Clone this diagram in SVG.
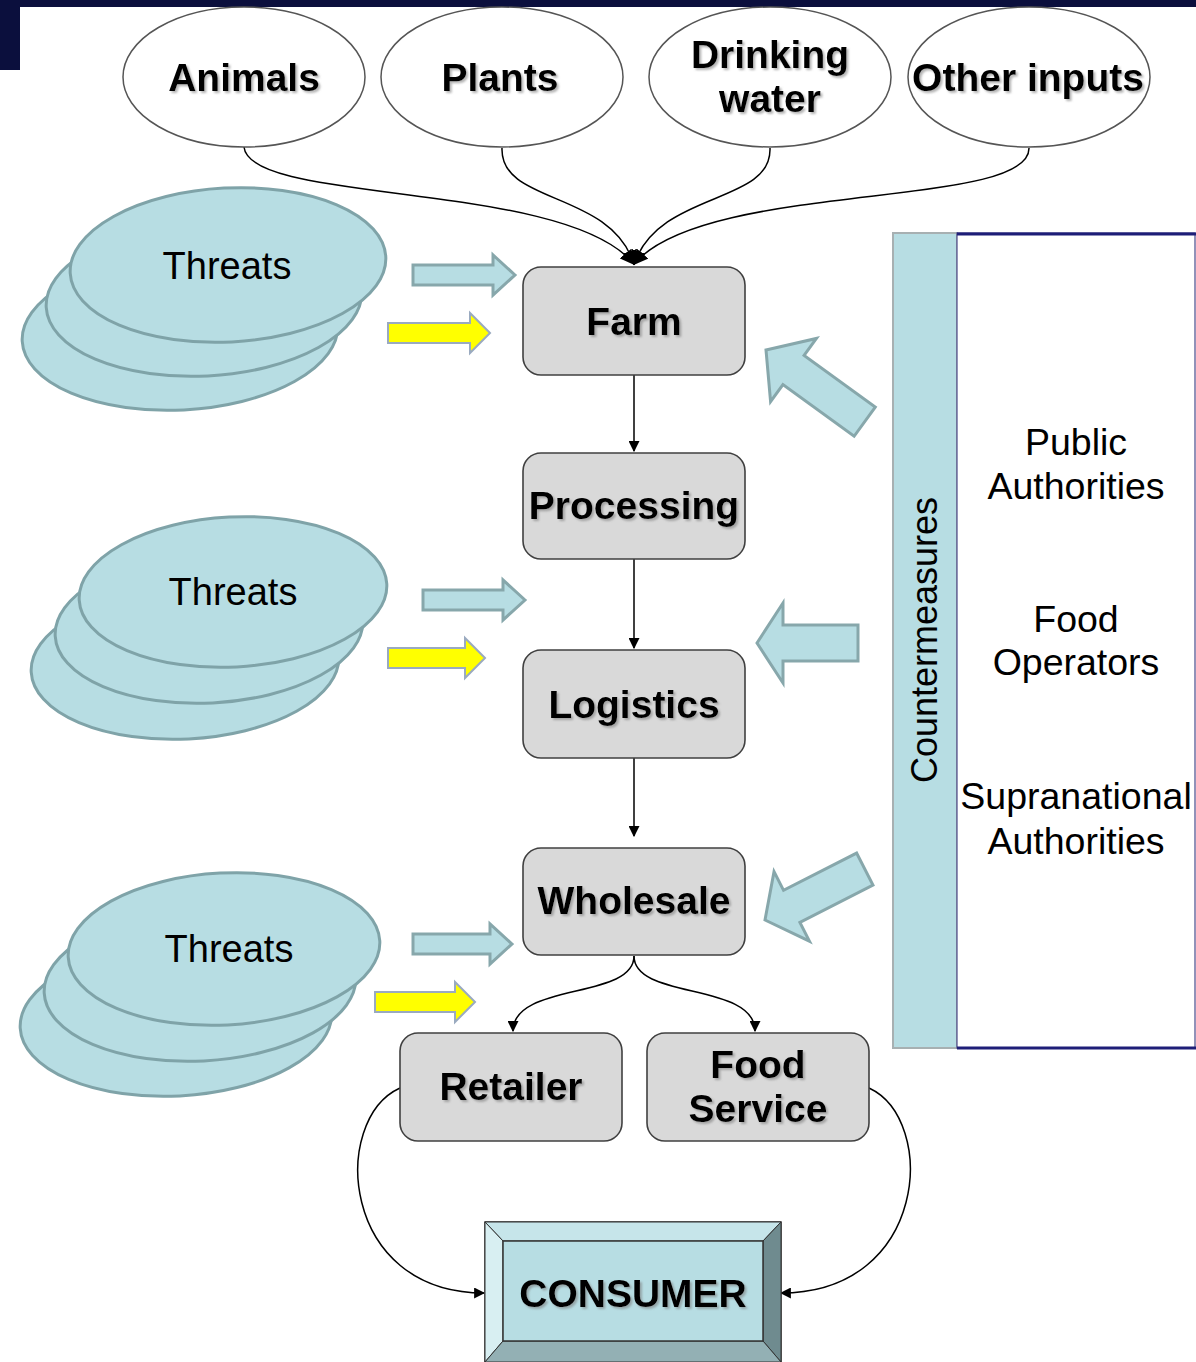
<svg xmlns="http://www.w3.org/2000/svg" width="1196" height="1362" viewBox="0 0 1196 1362">
<defs>
<style>
.bg{fill:#ffffff}
.navy{fill:#0b0f3d}
.src{fill:#ffffff;stroke:#555555;stroke-width:1.5}
.box{fill:#d9d9d9;stroke:#404040;stroke-width:1.6}
.bt{font-family:"Liberation Sans",Arial,sans-serif;font-weight:bold;font-size:39px;fill:#000;text-anchor:middle;filter:url(#sh)}
.nt{font-family:"Liberation Sans",Arial,sans-serif;font-size:38px;fill:#000;text-anchor:middle}
.ct{font-family:"Liberation Sans",Arial,sans-serif;font-size:36px;fill:#000;text-anchor:middle}
.rt{font-family:"Liberation Sans",Arial,sans-serif;font-size:37.5px;fill:#000;text-anchor:middle}
.thr{fill:#b7dde3;stroke:#7fa3a8;stroke-width:3}
.barrow{fill:#b7dde3;stroke:#87a7ab;stroke-width:3;stroke-linejoin:miter}
.yarrow{fill:#ffff00;stroke:#9aaac0;stroke-width:2}
.conn{fill:none;stroke:#000;stroke-width:1.5}
</style>
<marker id="ah" viewBox="0 0 10 10" refX="9" refY="5" markerWidth="11" markerHeight="11" orient="auto" markerUnits="userSpaceOnUse">
<path d="M0,0 L10,5 L0,10 z" fill="#000"/>
</marker>
<marker id="ahs" viewBox="0 0 10 10" refX="9" refY="5" markerWidth="15" markerHeight="15" orient="auto" markerUnits="userSpaceOnUse">
<path d="M0,0 L10,5 L0,10 z" fill="#000"/>
</marker>
<filter id="sh" x="-10%" y="-20%" width="130%" height="150%">
<feDropShadow dx="2" dy="2" stdDeviation="1.2" flood-color="#777" flood-opacity="0.55"/>
</filter>
</defs>
<rect class="bg" x="0" y="0" width="1196" height="1362"/>
<rect class="navy" x="0" y="0" width="1196" height="7"/>
<rect class="navy" x="0" y="0" width="20" height="70"/>

<g id="connectors">
<path class="conn" d="M244,147 C250,205 565,180 634,264" marker-end="url(#ahs)"/>
<path class="conn" d="M502,148 C500,205 610,190 634,264" marker-end="url(#ahs)"/>
<path class="conn" d="M770,148 C772,205 660,190 634,264" marker-end="url(#ahs)"/>
<path class="conn" d="M1029,148 C1030,210 705,180 634,264" marker-end="url(#ahs)"/>
<path class="conn" d="M634,375 L634,451" marker-end="url(#ah)"/>
<path class="conn" d="M634,559 L634,648" marker-end="url(#ah)"/>
<path class="conn" d="M634,758 L634,836" marker-end="url(#ah)"/>
<path class="conn" d="M634,956 C634,1000 513,982 513,1031" marker-end="url(#ah)"/>
<path class="conn" d="M634,956 C634,1000 755,982 755,1031" marker-end="url(#ah)"/>
<path class="conn" d="M400,1088 C330,1120 340,1293 484,1293" marker-end="url(#ah)"/>
<path class="conn" d="M869,1088 C938,1120 928,1293 781,1293" marker-end="url(#ah)"/>
</g>

<g id="animals"><ellipse class="src" cx="244" cy="77" rx="121" ry="70"/><text class="bt" x="244" y="91">Animals</text></g>
<g id="plants"><ellipse class="src" cx="502" cy="77" rx="121" ry="70"/><text class="bt" x="500" y="91">Plants</text></g>
<g id="drinking-water"><ellipse class="src" cx="770" cy="77" rx="121" ry="70"/><text class="bt" x="770" y="68">Drinking</text><text class="bt" x="770" y="112">water</text></g>
<g id="other-inputs"><ellipse class="src" cx="1029" cy="77" rx="121" ry="70"/><text class="bt" x="1028" y="91">Other inputs</text></g>

<g id="threats-1">
<ellipse class="thr" cx="180" cy="333" rx="158" ry="77" transform="rotate(-3 180 333)"/>
<ellipse class="thr" cx="204" cy="299" rx="158" ry="77" transform="rotate(-3 204 299)"/>
<ellipse class="thr" cx="228" cy="265" rx="158" ry="77" transform="rotate(-3 228 265)"/>
<text class="nt" x="227" y="279">Threats</text>
<polygon class="barrow" points="515,275 493,255 493,265 413,265 413,285 493,285 493,295"/>
<polygon class="yarrow" points="490,333 470,313 470,323 388,323 388,343 470,343 470,353"/>
</g>
<g id="threats-2">
<ellipse class="thr" cx="185" cy="664" rx="154" ry="75" transform="rotate(-3 185 664)"/>
<ellipse class="thr" cx="209" cy="628" rx="154" ry="75" transform="rotate(-3 209 628)"/>
<ellipse class="thr" cx="233" cy="592" rx="154" ry="75" transform="rotate(-3 233 592)"/>
<text class="nt" x="233" y="605">Threats</text>
<polygon class="barrow" points="525,600 503,580 503,590 423,590 423,610 503,610 503,620"/>
<polygon class="yarrow" points="485,658 465,638 465,648 388,648 388,668 465,668 465,678"/>
</g>
<g id="threats-3">
<ellipse class="thr" cx="176" cy="1020" rx="156" ry="76" transform="rotate(-3 176 1020)"/>
<ellipse class="thr" cx="200" cy="985" rx="156" ry="76" transform="rotate(-3 200 985)"/>
<ellipse class="thr" cx="224" cy="949" rx="156" ry="76" transform="rotate(-3 224 949)"/>
<text class="nt" x="229" y="962">Threats</text>
<polygon class="barrow" points="512,944 490,924 490,934 413,934 413,954 490,954 490,964"/>
<polygon class="yarrow" points="475,1002 455,982 455,992 375,992 375,1012 455,1012 455,1022"/>
</g>

<g id="farm"><rect class="box" x="523" y="267" width="222" height="108" rx="18"/><text class="bt" x="634" y="335">Farm</text></g>
<g id="processing"><rect class="box" x="523" y="453" width="222" height="106" rx="18"/><text class="bt" x="634" y="519">Processing</text></g>
<g id="logistics"><rect class="box" x="523" y="650" width="222" height="108" rx="18"/><text class="bt" x="634" y="718">Logistics</text></g>
<g id="wholesale"><rect class="box" x="523" y="848" width="222" height="107" rx="18"/><text class="bt" x="634" y="914">Wholesale</text></g>
<g id="retailer"><rect class="box" x="400" y="1033" width="222" height="108" rx="18"/><text class="bt" x="511" y="1100">Retailer</text></g>
<g id="food-service"><rect class="box" x="647" y="1033" width="222" height="108" rx="18"/><text class="bt" x="758" y="1078">Food</text><text class="bt" x="758" y="1122">Service</text></g>

<g id="consumer">
<rect x="485" y="1222" width="296" height="145" fill="#b7dde3" stroke="#333" stroke-width="1.5"/>
<polygon points="485,1222 781,1222 763,1241 503,1241" fill="#c6e5ea" stroke="#333" stroke-width="1"/>
<polygon points="485,1222 503,1241 503,1341 485,1362" fill="#d8eff2" stroke="#333" stroke-width="1"/>
<polygon points="781,1222 763,1241 763,1341 781,1362" fill="#6f8b8f" stroke="#333" stroke-width="1"/>
<polygon points="503,1341 763,1341 781,1362 485,1362" fill="#93b0b4" stroke="#333" stroke-width="1"/>
<rect x="503" y="1241" width="260" height="100" fill="#b7dde3" stroke="#333" stroke-width="1.5"/>
<text class="bt" x="633" y="1307">CONSUMER</text>
</g>

<g id="countermeasures">
<rect x="893" y="233" width="64" height="815" fill="#b7dde3" stroke="#a7b0b2" stroke-width="2"/>
<rect x="957" y="233" width="238" height="815" fill="#ffffff" stroke="#4a4a8a" stroke-width="1.2"/>
<line x1="957" y1="234" x2="1196" y2="234" stroke="#1e1e78" stroke-width="3"/>
<line x1="957" y1="1048" x2="1196" y2="1048" stroke="#1e1e78" stroke-width="3"/>
<text class="ct" x="0" y="0" transform="translate(937,640) rotate(-90)">Countermeasures</text>
<text class="rt" x="1076" y="455">Public</text>
<text class="rt" x="1076" y="499">Authorities</text>
<text class="rt" x="1076" y="632">Food</text>
<text class="rt" x="1076" y="675">Operators</text>
<text class="rt" x="1076" y="809">Supranational</text>
<text class="rt" x="1076" y="854">Authorities</text>
</g>

<g id="countermeasure-arrows">
<polygon class="barrow" transform="translate(766,350) rotate(36)" points="0,0 34,-39 34,-18 122,-18 122,18 34,18 34,39"/>
<polygon class="barrow" transform="translate(757,643)" points="0,0 26,-40 26,-18 101,-18 101,18 26,18 26,40"/>
<polygon class="barrow" transform="translate(765,920) rotate(-27)" points="0,0 30,-39 30,-18 112,-18 112,18 30,18 30,39"/>
</g>
</svg>
